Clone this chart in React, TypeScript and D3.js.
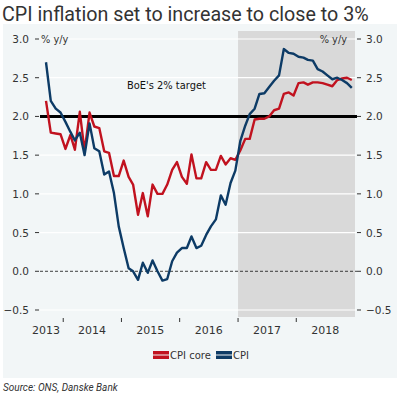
import React from "react";
import * as d3 from "d3";

// monthly values, Sep 2013 - Dec 2018 (% y/y)
const cpi = [
  2.7, 2.2, 2.1, 2.05,
  1.93, 1.8, 1.69, 1.79, 1.5, 1.91, 1.59, 1.55, 1.25, 1.29, 1.01, 0.58,
  0.3, 0.04, 0.0, -0.11, 0.11, -0.02, 0.14, 0.0, -0.12, -0.1, 0.13, 0.24,
  0.3, 0.3, 0.45, 0.3, 0.33, 0.47, 0.58, 0.67, 0.98, 0.86, 1.14, 1.3,
  1.68, 1.88, 2.03, 2.1, 2.29, 2.3, 2.38, 2.46, 2.53, 2.87, 2.82, 2.81,
  2.77, 2.76, 2.73, 2.72, 2.61, 2.58, 2.53, 2.48, 2.5, 2.47, 2.43, 2.37,
];
const cpiCore = [
  2.2, 1.79, 1.78, 1.77,
  1.58, 1.76, 1.57, 2.06, 1.55, 2.05, 1.87, 1.85, 1.55, 1.53, 1.23, 1.23,
  1.43, 1.22, 1.12, 0.73, 1.01, 0.71, 1.12, 1.0, 1.0, 1.12, 1.31, 1.41,
  1.22, 1.13, 1.51, 1.2, 1.2, 1.41, 1.31, 1.31, 1.49, 1.38, 1.46, 1.44,
  1.56, 1.71, 1.71, 1.96, 1.97, 1.97, 2.0, 2.08, 2.1, 2.29, 2.31, 2.27,
  2.43, 2.44, 2.41, 2.44, 2.44, 2.43, 2.41, 2.39, 2.47, 2.49, 2.5, 2.47,
];
const years = [2013, 2014, 2015, 2016, 2017, 2018];
const yTicks = [-0.5, 0, 0.5, 1, 1.5, 2, 2.5, 3];
const startMonth = new Date(2013, 8, 15);
const forecastStart = new Date(2017, 0, 1);
const target = 2;

const red = "#c1121f";
const navy = "#0d3b66";
const txt = "#333333";
const font = "Roboto, 'DejaVu Sans', sans-serif";
const axisFont = "'DejaVu Sans', sans-serif";

export default function App() {
  const svgRef = React.useRef(null);
  const width = 400;
  const height = 396;
  const left = 40, right = 356, top = 31, bottom = 317;

  React.useEffect(() => {
    const x = d3.scaleTime()
      .domain([new Date(2013, 0, 1), new Date(2019, 0, 1)])
      .range([5, 354.5]);
    const y = d3.scaleLinear().domain([-0.5, 3]).range([310, 39]);

    const svg = d3.select(svgRef.current);
    svg.selectAll("*").remove();

    svg.append("text")
      .attr("x", 2).attr("y", 21)
      .attr("font-family", font).attr("font-size", 19.7)
      .attr("fill", txt)
      .text("CPI inflation set to increase to close to 3%");

    svg.append("rect")
      .attr("x", 3).attr("y", 24).attr("width", 394).attr("height", 354)
      .attr("fill", "#f2f6f7");

    // forecast shading
    svg.append("rect")
      .attr("x", x(forecastStart)).attr("y", top)
      .attr("width", right - 1 - x(forecastStart)).attr("height", bottom - top)
      .attr("fill", "#d9d9d9");

    // gridlines
    svg.append("g").selectAll("line")
      .data(yTicks.filter(d => d !== 0 && d !== target))
      .enter().append("line")
      .attr("x1", left).attr("x2", right)
      .attr("y1", d => y(d)).attr("y2", d => y(d))
      .attr("stroke", "#ffffff").attr("stroke-width", 1.2);

    svg.append("line")
      .attr("x1", left).attr("x2", right + 1)
      .attr("y1", y(0)).attr("y2", y(0))
      .attr("stroke", "#111").attr("stroke-width", 0.8)
      .attr("stroke-dasharray", "3,2");

    // axes (left + right)
    const fmt = d3.format(".1f");
    const axL = svg.append("g").attr("font-family", axisFont).attr("font-size", 10.5).attr("fill", txt);
    yTicks.forEach(t => {
      axL.append("text").attr("x", 29).attr("y", y(t) + 4)
        .attr("text-anchor", "end").text(fmt(t));
      axL.append("line").attr("x1", 35).attr("x2", 39)
        .attr("y1", y(t)).attr("y2", y(t)).attr("stroke", txt);
      axL.append("text").attr("x", 366).attr("y", y(t) + 4)
        .attr("text-anchor", "start").text(fmt(t));
      axL.append("line").attr("x1", 357).attr("x2", 361)
        .attr("y1", y(t)).attr("y2", y(t)).attr("stroke", txt);
    });
    axL.append("text").attr("x", 41).attr("y", y(3) + 4).attr("font-size", 9.8).text("% y/y");
    axL.append("text").attr("x", 347).attr("y", y(3) + 4).attr("font-size", 9.8)
      .attr("text-anchor", "end").text("% y/y");

    // x axis
    const axX = svg.append("g").attr("font-family", axisFont).attr("font-size", 11).attr("fill", txt);
    years.slice(1).forEach(yr => {
      const px = x(new Date(yr, 0, 1));
      axX.append("line").attr("x1", px).attr("x2", px)
        .attr("y1", bottom + 1).attr("y2", bottom + 5).attr("stroke", txt);
    });
    years.forEach(yr => {
      const px = Math.max(x(new Date(yr, 6, 1)), 46);
      axX.append("text").attr("x", px).attr("y", 334)
        .attr("text-anchor", "middle").text(yr);
    });

    // target line
    svg.append("line")
      .attr("x1", left).attr("x2", right + 1)
      .attr("y1", y(target)).attr("y2", y(target))
      .attr("stroke", "#000").attr("stroke-width", 3);
    svg.append("text")
      .attr("x", 127).attr("y", 89)
      .attr("font-family", axisFont).attr("font-size", 9.9).attr("fill", "#111")
      .text("BoE's 2% target");

    const dates = cpi.map((_, i) => d3.timeMonth.offset(startMonth, i));
    const line = d3.line<number>()
      .x((_, i) => x(dates[i]))
      .y(d => y(d));

    svg.append("path").datum(cpiCore)
      .attr("d", line).attr("fill", "none")
      .attr("stroke", red).attr("stroke-width", 2.4).attr("stroke-linejoin", "round");
    svg.append("path").datum(cpi)
      .attr("d", line).attr("fill", "none")
      .attr("stroke", navy).attr("stroke-width", 2.4).attr("stroke-linejoin", "round");

    // legend
    const legend = [
      { name: "CPI core", color: red, x: 153 },
      { name: "CPI", color: navy, x: 216 },
    ];
    const lg = svg.append("g").attr("font-family", axisFont).attr("font-size", 10).attr("fill", txt);
    legend.forEach(l => {
      lg.append("rect").attr("x", l.x).attr("y", 351).attr("width", 16).attr("height", 8)
        .attr("fill", l.color);
      lg.append("line").attr("x1", l.x).attr("x2", l.x + 16)
        .attr("y1", 355).attr("y2", 355).attr("stroke", "#f2f6f7").attr("stroke-width", 1);
      lg.append("text").attr("x", l.x + 17).attr("y", 359).text(l.name);
    });

    svg.append("text")
      .attr("x", 3).attr("y", 391)
      .attr("font-family", font).attr("font-size", 10).attr("font-style", "italic")
      .attr("fill", txt)
      .text("Source: ONS, Danske Bank");
  }, []);

  return (
    <svg ref={svgRef} width={width} height={height}
      style={{ position: "absolute", left: 0, top: 0, background: "#fff" }} />
  );
}
